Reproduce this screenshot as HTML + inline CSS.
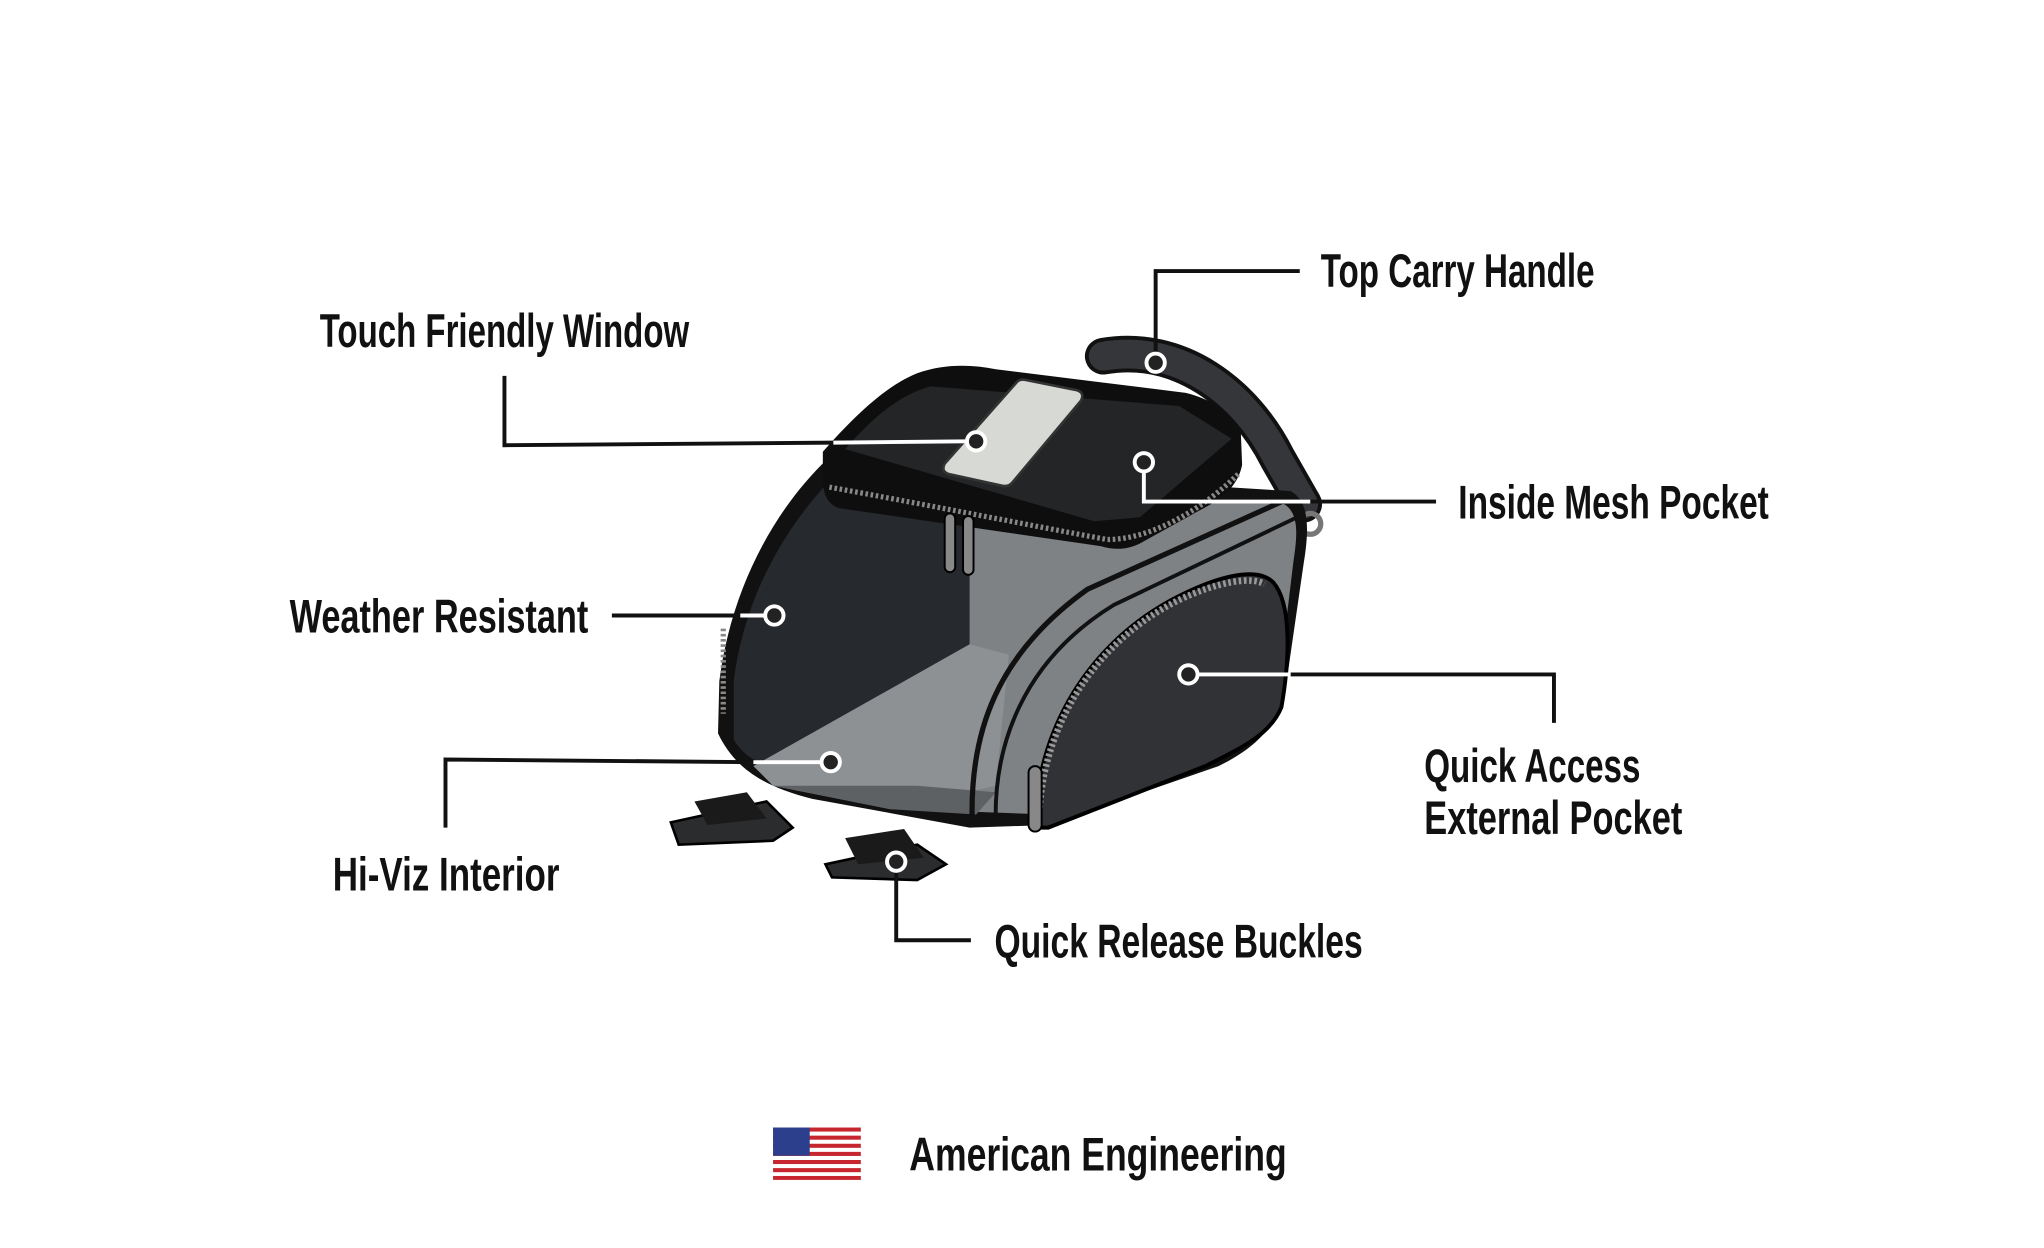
<!DOCTYPE html>
<html><head><meta charset="utf-8"><style>
html,body{margin:0;padding:0;background:#fff;}
svg{display:block;}
text{font-family:"Liberation Sans",sans-serif;font-weight:bold;fill:#111;font-size:36px;}
</style></head><body>
<svg width="2044" height="1248" viewBox="0 0 1560 953" preserveAspectRatio="none" xmlns="http://www.w3.org/2000/svg">
<rect width="1560" height="953" fill="#fff"/>
<!-- handle -->
<path d="M842,272 C900,262 950,300 975,350 L995,385" fill="none" stroke="#111" stroke-width="28" stroke-linecap="round"/>
<path d="M842,272 C900,262 950,300 975,350 L995,385" fill="none" stroke="#34363a" stroke-width="22" stroke-linecap="round"/>
<circle cx="1000" cy="400" r="8" fill="none" stroke="#777" stroke-width="4"/>
<!-- buckles -->
<path d="M512,628 L585,612 L605,632 L590,642 L518,645 Z" fill="#2b2c2e" stroke="#000" stroke-width="2"/>
<path d="M530,612 L570,605 L585,625 L540,630 Z" fill="#1a1a1a"/>
<path d="M630,660 L700,645 L722,660 L700,672 L635,670 Z" fill="#2b2c2e" stroke="#000" stroke-width="2"/>
<path d="M645,640 L690,633 L705,655 L655,660 Z" fill="#1a1a1a"/>
<!-- body outline dark -->
<path d="M632,350 C590,390 558,450 549,520 L548,560 C560,585 580,600 620,610 L740,632 L800,630 L930,585 C965,568 978,548 982,520 L995,430 C1000,400 998,382 985,375 L740,360 Z" fill="#111"/>
<path d="M640,360 C600,400 568,455 560,520 L560,565 C570,580 580,585 600,583 L740,492 L740,370 Z" fill="#26292d"/>
<path d="M740,370 L980,385 C992,392 990,410 987,430 L975,530 C970,550 958,562 930,575 L800,622 L745,620 L740,492 Z" fill="#7f8285"/>
<path d="M740,492 L575,585 L590,600 L680,618 L760,600 L770,500 Z" fill="#8e9194"/>
<path d="M590,600 L680,618 L745,622 L760,605 L700,600 Z" fill="#5e6164"/>
<path d="M742,628 C740,560 760,500 830,450 L985,380" fill="none" stroke="#111" stroke-width="4"/>
<path d="M760,630 C758,570 780,505 850,462 L990,395" fill="none" stroke="#111" stroke-width="3"/>
<!-- pocket -->
<path d="M790,632 C790,560 830,490 900,455 C930,440 960,432 972,445 C985,460 985,500 978,540 C970,560 950,570 920,585 L800,632 Z" fill="#303236" stroke="#000" stroke-width="3"/>
<path d="M793,625 C795,555 835,490 900,458 C930,444 955,440 965,446" fill="none" stroke="#999" stroke-width="5" stroke-dasharray="2 2"/>
<rect x="785" y="585" width="10" height="50" rx="5" fill="#888" stroke="#000" stroke-width="1.5"/>
<!-- lid -->
<path d="M628,345 C650,320 675,295 700,285 C720,278 740,278 760,282 L905,300 C925,305 940,315 947,330 L948,355 C945,370 935,380 915,390 L870,415 C860,420 850,420 840,417 L640,388 C630,384 628,375 628,365 Z" fill="#0e0e0e"/>
<path d="M645,343 C665,320 685,302 710,295 L900,310 L940,335 L870,395 L835,398 Z" fill="#232527"/>
<path d="M633,372 C700,384 780,400 845,412 C880,412 920,387 945,362" fill="none" stroke="#888" stroke-width="4" stroke-dasharray="2 2"/>
<rect x="721" y="392" width="8" height="45" rx="4" fill="#888" stroke="#000" stroke-width="1.5"/>
<rect x="735" y="394" width="8" height="45" rx="4" fill="#888" stroke="#000" stroke-width="1.5"/>
<path d="M552,480 L552,545" stroke="#888" stroke-width="4" stroke-dasharray="2 2"/>
<!-- phone -->
<path d="M782,290 L822,298 Q828,300 825,306 L773,368 Q770,372 765,371 L724,362 Q718,360 721,354 L775,293 Q778,289 782,290 Z" fill="#d7d9d4" stroke="#333" stroke-width="2"/>
<!-- connectors -->
<g fill="none" stroke="#111" stroke-width="3">
<path d="M882,270 L882,207 L992,207"/>
<path d="M385,287 L385,340 L636,338"/>
<path d="M873,360 L873,383 L1096,383"/>
<path d="M467,470 L565,470"/>
<path d="M985,515 L1186,515 L1186,552"/>
<path d="M340,632 L340,580 L575,582"/>
<path d="M684,665 L684,718 L741,718"/>
</g>
<g fill="none" stroke="#fff" stroke-width="3">
<path d="M636,338 L738,337"/>
<path d="M873,360 L873,383 L1000,383"/>
<path d="M565,470 L584,470"/>
<path d="M914,515 L985,515"/>
<path d="M575,582 L627,582"/>
</g>
<g fill="#222" stroke="#fff" stroke-width="3">
<circle cx="882" cy="277" r="7"/><circle cx="745" cy="337" r="7"/><circle cx="873" cy="353" r="7"/>
<circle cx="591" cy="470" r="7"/><circle cx="907" cy="515" r="7"/><circle cx="634" cy="582" r="7"/><circle cx="684" cy="658" r="7"/>
</g>
<!-- labels -->
<text x="1008" y="219" textLength="209" lengthAdjust="spacingAndGlyphs">Top Carry Handle</text>
<text x="244" y="265" textLength="282" lengthAdjust="spacingAndGlyphs">Touch Friendly Window</text>
<text x="1113" y="396" textLength="237" lengthAdjust="spacingAndGlyphs">Inside Mesh Pocket</text>
<text x="221" y="483" textLength="228" lengthAdjust="spacingAndGlyphs">Weather Resistant</text>
<text x="1087" y="597" textLength="165" lengthAdjust="spacingAndGlyphs">Quick Access</text>
<text x="1087" y="637" textLength="197" lengthAdjust="spacingAndGlyphs">External Pocket</text>
<text x="254" y="680" textLength="173" lengthAdjust="spacingAndGlyphs">Hi-Viz Interior</text>
<text x="759" y="731" textLength="281" lengthAdjust="spacingAndGlyphs">Quick Release Buckles</text>
<text x="694" y="894" textLength="288" lengthAdjust="spacingAndGlyphs">American Engineering</text>
<!-- flag -->
<g>
<rect x="590" y="861" width="67" height="40" fill="#fff"/>
<rect x="590" y="861" width="67" height="3.1" fill="#c8262e"/>
<rect x="590" y="867.2" width="67" height="3.1" fill="#c8262e"/>
<rect x="590" y="873.4" width="67" height="3.1" fill="#c8262e"/>
<rect x="590" y="879.6" width="67" height="3.1" fill="#c8262e"/>
<rect x="590" y="885.8" width="67" height="3.1" fill="#c8262e"/>
<rect x="590" y="892" width="67" height="3.1" fill="#c8262e"/>
<rect x="590" y="898" width="67" height="3" fill="#c8262e"/>
<rect x="590" y="861" width="28" height="21.5" fill="#2b3f8c"/>
</g>
</svg>
</body></html>
